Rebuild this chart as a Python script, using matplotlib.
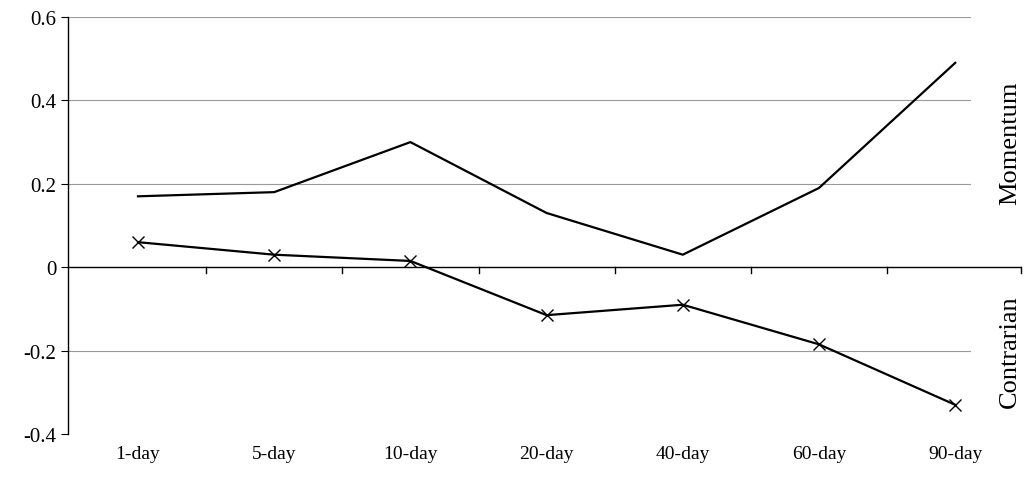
import numpy as np
import matplotlib.pyplot as plt

plt.rcParams['font.family'] = ['Liberation Serif', 'DejaVu Serif']

horizons = ['1-day', '5-day', '10-day', '20-day', '40-day', '60-day', '90-day']
momentum = [0.17, 0.18, 0.30, 0.13, 0.03, 0.19, 0.49]
contrarian = [0.06, 0.03, 0.015, -0.115, -0.09, -0.185, -0.33]

fig = plt.figure(figsize=(10.33, 4.89), dpi=100)
ax = fig.add_axes([68/1033, 1-435/489, (1022-68)/1033, (435-18)/489])

x = np.arange(len(horizons))
step = 136.2
ax.set_xlim(-70/step, (1022-138)/step)
ax.set_ylim(-0.4, 0.6)

for g in [-0.2, 0.2, 0.4, 0.6]:
    ax.plot([-1, (970-138)/step], [g, g], color='#999999', lw=0.8, zorder=0)
ax.axhline(0, color='black', lw=1)
for b in list(np.arange(0.5, 6.0, 1.0)) + [(1021-138)/step]:
    ax.plot([b, b], [0, -0.015], color='black', lw=1, clip_on=False)

ax.plot(x, momentum, color='black', lw=1.6)
ax.plot(x, contrarian, color='black', lw=1.6, marker='x', markersize=9, markeredgewidth=1)

for s in ['top', 'right', 'bottom']:
    ax.spines[s].set_visible(False)
ax.spines['left'].set_linewidth(1)
ax.set_yticks([-0.4, -0.2, 0, 0.2, 0.4, 0.6])
ax.set_yticklabels(['-0.4', '-0.2', '0', '0.2', '0.4', '0.6'], fontsize=15)
ax.tick_params(axis='y', direction='out', length=5)
ax.set_xticks(x)
ax.set_xticklabels(horizons, fontsize=14)
ax.tick_params(axis='x', length=0, pad=8)

tx = (1010-138)/step
ax.text(tx, 0.3, 'Momentum', rotation=90, fontsize=19, ha='center', va='center')
ax.text(tx, -0.2, 'Contrarian', rotation=90, fontsize=19, ha='center', va='center')

fig.savefig('out.png', dpi=100)
